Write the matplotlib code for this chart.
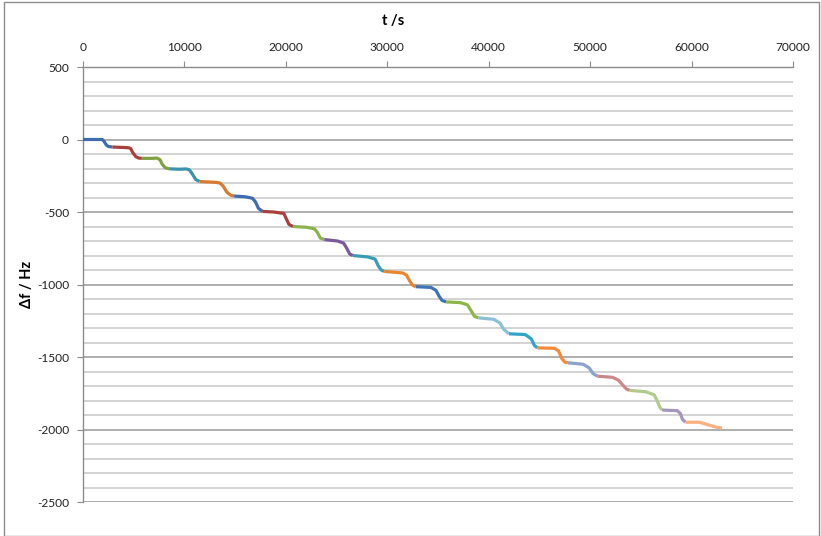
import matplotlib
matplotlib.use("Agg")
import matplotlib.pyplot as plt
from matplotlib.patches import Rectangle
from matplotlib.ticker import MultipleLocator

plt.rcParams['font.family'] = ['Lato', 'DejaVu Sans']

# ---- data: each measurement series (time in s, frequency shift in Hz) ----
seg_t01 = [0, 1900, 2100, 2300, 2500, 2900]
seg_f01 = [0, 0, -15, -38, -48, -52]
seg_t02 = [2900, 4000, 4500, 4700, 4900, 5200, 5500, 5800]
seg_f02 = [-52, -55, -57, -62, -90, -118, -128, -130]
seg_t03 = [5800, 6800, 7300, 7600, 7800, 8100, 8500]
seg_f03 = [-130, -130, -128, -140, -170, -195, -202]
seg_t04 = [8500, 9500, 10200, 10500, 10800, 11100, 11500]
seg_f04 = [-202, -205, -203, -210, -240, -275, -290]
seg_t05 = [11500, 13000, 13500, 13800, 14200, 14600, 14900]
seg_f05 = [-290, -295, -300, -320, -365, -385, -390]
seg_t06 = [14900, 16000, 16700, 17000, 17300, 17700]
seg_f06 = [-390, -395, -405, -430, -475, -496]
seg_t07 = [17700, 18800, 19800, 20000, 20300, 20700]
seg_f07 = [-496, -500, -510, -540, -585, -600]
seg_t08 = [20700, 22000, 22800, 23100, 23400, 23800]
seg_f08 = [-600, -605, -615, -640, -680, -690]
seg_t09 = [23800, 25100, 25700, 26000, 26300, 26600]
seg_f09 = [-690, -700, -715, -750, -790, -800]
seg_t10 = [26600, 28100, 28800, 29100, 29400, 29700]
seg_f10 = [-800, -810, -825, -870, -900, -910]
seg_t11 = [29700, 31500, 31900, 32200, 32500, 32800]
seg_f11 = [-910, -920, -935, -975, -1005, -1015]
seg_t12 = [32800, 34300, 34800, 35100, 35400, 35800]
seg_f12 = [-1015, -1020, -1040, -1080, -1110, -1120]
seg_t13 = [35800, 37200, 37900, 38300, 38600, 39000]
seg_f13 = [-1120, -1125, -1140, -1185, -1220, -1230]
seg_t14 = [39000, 40500, 41100, 41500, 42000]
seg_f14 = [-1230, -1240, -1265, -1310, -1340]
seg_t15 = [42000, 43600, 44200, 44500, 44800]
seg_f15 = [-1340, -1345, -1375, -1420, -1437]
seg_t16 = [44800, 46500, 46900, 47200, 47500, 47800]
seg_f16 = [-1437, -1440, -1460, -1510, -1535, -1540]
seg_t17 = [47800, 49300, 49900, 50300, 50700]
seg_f17 = [-1540, -1550, -1575, -1615, -1632]
seg_t18 = [50700, 52200, 52800, 53300, 53600, 53900]
seg_f18 = [-1632, -1640, -1660, -1700, -1722, -1730]
seg_t19 = [53900, 55500, 56300, 56600, 56900, 57100]
seg_f19 = [-1730, -1740, -1760, -1800, -1850, -1866]
seg_t20 = [57100, 58600, 58900, 59100, 59400]
seg_f20 = [-1866, -1870, -1890, -1930, -1950]
seg_t21 = [59400, 60800, 61500, 62500, 63000]
seg_f21 = [-1950, -1950, -1965, -1985, -1990]

series_t = [seg_t01, seg_t02, seg_t03, seg_t04, seg_t05, seg_t06, seg_t07,
            seg_t08, seg_t09, seg_t10, seg_t11, seg_t12, seg_t13, seg_t14,
            seg_t15, seg_t16, seg_t17, seg_t18, seg_t19, seg_t20, seg_t21]
series_f = [seg_f01, seg_f02, seg_f03, seg_f04, seg_f05, seg_f06, seg_f07,
            seg_f08, seg_f09, seg_f10, seg_f11, seg_f12, seg_f13, seg_f14,
            seg_f15, seg_f16, seg_f17, seg_f18, seg_f19, seg_f20, seg_f21]

colors = ["#3F6CAE", "#AA3F3C", "#7FA043", "#3A93AE", "#D97B2E",
          "#3F6CAE", "#AA3F3C", "#8AB24D", "#7A5A9C", "#3A9DB8",
          "#E9842F", "#3F73B8", "#8DB649", "#8CC0D8", "#2FA6C6",
          "#F58A3A", "#8AA2CC", "#CC8886", "#B0CB8A", "#A596BE", "#F8B07E"]

x_ticks = [0, 10000, 20000, 30000, 40000, 50000, 60000, 70000]
y_ticks = [500, 0, -500, -1000, -1500, -2000, -2500]

W, H = 821, 536
fig = plt.figure(figsize=(W / 100, H / 100), dpi=100)
ax = fig.add_axes([83 / W, (H - 502) / H, (793 - 83) / W, (502 - 67) / H])

ax.set_xlim(0, 70000)
ax.set_ylim(-2500, 500)
ax.set_xticks(x_ticks)
ax.set_xticklabels([str(v) for v in x_ticks])
ax.set_yticks(y_ticks)
ax.set_yticklabels([str(v) for v in y_ticks])
ax.yaxis.set_minor_locator(MultipleLocator(100))

ax.xaxis.tick_top()
ax.xaxis.set_label_position('top')

ax.grid(True, axis='y', which='minor', color='#D0D0D0', lw=1.3, zorder=0)
ax.grid(True, axis='y', which='major', color='#A8A8A8', lw=1.3, zorder=0)
ax.set_axisbelow(True)

for sp in ['right', 'bottom']:
    ax.spines[sp].set_visible(False)
for sp in ['left', 'top']:
    ax.spines[sp].set_color('#8C8C8C')
    ax.spines[sp].set_linewidth(1.0)

ax.tick_params(axis='x', which='major', length=4, color='#8C8C8C', labelsize=8.6, pad=6, labelcolor='#222222')
ax.tick_params(axis='y', which='major', length=4, color='#8C8C8C', labelsize=8.6, pad=6, labelcolor='#222222')
ax.tick_params(axis='y', which='minor', length=0)

for t, f, c in zip(series_t, series_f, colors):
    ax.plot(t, f, color=c, lw=2.3, solid_joinstyle='round', solid_capstyle='butt', zorder=3)

ax.set_xlabel('t /s', fontsize=10.5, fontweight='bold')
ax.xaxis.set_label_coords((393 - 83) / 710, (502 - 21.5) / 435)
ax.xaxis.label.set_va('center')
ax.set_ylabel('Δf / Hz', fontsize=10.5, fontweight='bold')
ax.yaxis.set_label_coords((27 - 83) / 710, 0.5)
ax.yaxis.label.set_va('center')

fig.patches.append(Rectangle((3.5 / W, 0.5 / H), (819 - 3.5) / W, (534.5 - 0.5) / H,
                             transform=fig.transFigure, fill=False,
                             edgecolor='#8C8C8C', lw=1.0))

fig.savefig('out.png', dpi=100)
